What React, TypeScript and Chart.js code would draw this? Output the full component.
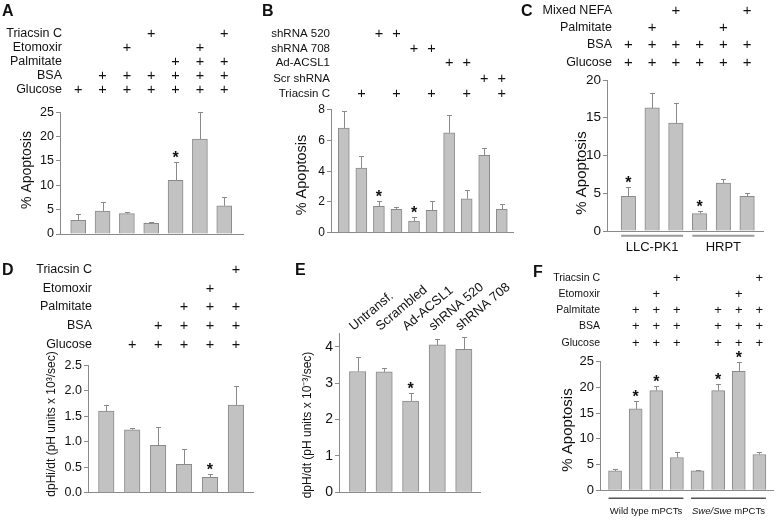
import React, { useEffect, useRef } from "react";
import { Chart, registerables } from "chart.js";

Chart.register(...registerables);

const W = 779;
const H = 521;
const YW = 40;
const FONT = "'Liberation Sans', Arial, Helvetica, sans-serif";
const TEXT = "#111111";
const AXIS = "#8a8a8a";
const BAR_FILL = "#c2c2c2";
const BAR_EDGE = "#8a8a8a";
const ERR = "#8a8a8a";

// ---------- Panel A ----------
const aRowLabels = ["Triacsin C", "Etomoxir", "Palmitate", "BSA", "Glucose"];
const aRowMarks = [[3, 6], [2, 5], [4, 5, 6], [1, 2, 3, 4, 5, 6], [0, 1, 2, 3, 4, 5, 6]];
const aValues = [2.8, 4.7, 4.2, 2.2, 11.0, 19.5, 5.8];
const aSem = [1.4, 1.8, 0.25, 0.2, 3.7, 5.5, 1.9];
const aStars = [4];

// ---------- Panel B ----------
const bRowLabels = ["shRNA 520", "shRNA 708", "Ad-ACSL1", "Scr shRNA", "Triacsin C"];
const bRowMarks = [[2, 3], [4, 5], [6, 7], [8, 9], [1, 3, 5, 7, 9]];
const bValues = [6.8, 4.2, 1.72, 1.52, 0.76, 1.46, 6.5, 2.2, 5.04, 1.52];
const bSem = [1.1, 0.76, 0.35, 0.13, 0.24, 0.58, 1.15, 0.58, 0.44, 0.33];
const bStars = [2, 4];

// ---------- Panel C ----------
const cRowLabels = ["Mixed NEFA", "Palmitate", "BSA", "Glucose"];
const cRowMarks = [[2, 5], [1, 4], [0, 1, 2, 3, 4, 5], [0, 1, 2, 3, 4, 5]];
const cValues = [4.6, 16.3, 14.3, 2.3, 6.35, 4.6];
const cSem = [1.2, 2.0, 2.7, 0.35, 0.5, 0.44];
const cStars = [0, 3];
const cGroups = ["LLC-PK1", "HRPT"];
const cGroupRanges = [[0, 2], [3, 5]];

// ---------- Panel D ----------
const dRowLabels = ["Triacsin C", "Etomoxir", "Palmitate", "BSA", "Glucose"];
const dRowMarks = [[5], [4], [3, 4, 5], [2, 3, 4, 5], [1, 2, 3, 4, 5]];
const dValues = [1.6, 1.235, 0.93, 0.555, 0.3, 1.72];
const dSem = [0.11, 0.035, 0.36, 0.295, 0.07, 0.365];
const dStars = [4];

// ---------- Panel E ----------
const eCategories = ["Untransf.", "Scrambled", "Ad-ACSL1", "shRNA 520", "shRNA 708"];
const eValues = [3.32, 3.31, 2.51, 4.05, 3.93];
const eSem = [0.4, 0.12, 0.21, 0.17, 0.35];
const eStars = [2];

// ---------- Panel F ----------
const fRowLabels = ["Triacsin C", "Etomoxir", "Palmitate", "BSA", "Glucose"];
const fRowMarks = [[3, 7], [2, 6], [1, 2, 3, 5, 6, 7], [1, 2, 3, 5, 6, 7], [1, 2, 3, 5, 6, 7]];
const fValues = [3.77, 15.8, 19.35, 6.36, 3.77, 19.35, 23.1, 6.95];
const fSem = [0.39, 1.5, 0.95, 1.1, 0.19, 1.35, 1.9, 0.45];
const fStars = [1, 2, 5, 6];
const fGroupRanges = [[0, 3], [4, 7]];

type Seg = { t: string; i?: boolean };
type PanelCfg = {
  letter: string;
  letterPos: [number, number];
  values: number[];
  sems: number[];
  stars: number[];
  area: { l: number; r: number; t: number; b: number };
  xRange: [number, number];
  yMax: number;
  yStep: number;
  tickSize: number;
  decimals: number;
  barW: number;
  rows?: { labels: string[]; marks: number[][]; labelX: number; ys: number[]; size: number; plusSize: number };
  yTitle: { text: string; x: number; y: number; size: number };
  groups?: { labels: Seg[][]; ranges: number[][]; lineY: number; labelY: number; size: number; color: string; width: number };
  cats?: { labels: string[]; dx: number; y: number; angle: number; size: number };
};

const panels: PanelCfg[] = [
  {
    letter: "A", letterPos: [2, 4],
    values: aValues, sems: aSem, stars: aStars,
    area: { l: 60, r: 243, t: 112.3, b: 234 },
    xRange: [-0.748, 6.77], yMax: 25, yStep: 5, tickSize: 12.5, decimals: 0, barW: 15,
    rows: { labels: aRowLabels, marks: aRowMarks, labelX: 62, ys: [34, 48, 62, 76, 90], size: 12.5, plusSize: 14.5 },
    yTitle: { text: "% Apoptosis", x: 27, y: 170, size: 14 },
  },
  {
    letter: "B", letterPos: [262, 4],
    values: bValues, sems: bSem, stars: bStars,
    area: { l: 331, r: 513, t: 109.7, b: 232.7 },
    xRange: [-0.73, 9.64], yMax: 8, yStep: 2, tickSize: 12, decimals: 0, barW: 11,
    rows: { labels: bRowLabels, marks: bRowMarks, labelX: 330, ys: [34, 48.5, 63, 78.5, 94], size: 11.5, plusSize: 14.5 },
    yTitle: { text: "% Apoptosis", x: 301.5, y: 175, size: 14.5 },
  },
  {
    letter: "C", letterPos: [521, 4],
    values: cValues, sems: cSem, stars: cStars,
    area: { l: 607, r: 763, t: 80, b: 231 },
    xRange: [-0.9, 5.67], yMax: 20, yStep: 5, tickSize: 13.5, decimals: 0, barW: 14.5,
    rows: { labels: cRowLabels, marks: cRowMarks, labelX: 612, ys: [11, 28, 45, 62.5], size: 12.5, plusSize: 15 },
    yTitle: { text: "% Apoptosis", x: 582, y: 173, size: 15 },
    groups: {
      labels: cGroups.map((g) => [{ t: g }]), ranges: cGroupRanges,
      lineY: 235.7, labelY: 247, size: 13, color: "#9a9a9a", width: 2,
    },
  },
  {
    letter: "D", letterPos: [2, 263],
    values: dValues, sems: dSem, stars: dStars,
    area: { l: 88, r: 253, t: 365.2, b: 492.7 },
    xRange: [-0.705, 5.66], yMax: 2.5, yStep: 0.5, tickSize: 12.5, decimals: 1, barW: 15.5,
    rows: { labels: dRowLabels, marks: dRowMarks, labelX: 92, ys: [270, 288.5, 307, 326, 345], size: 12.5, plusSize: 14.5 },
    yTitle: { text: "dpHi/dt (pH units x 10\u00B3/sec)", x: 52, y: 424, size: 12 },
  },
  {
    letter: "E", letterPos: [295, 263],
    values: eValues, sems: eSem, stars: eStars,
    area: { l: 339, r: 480, t: 333.3, b: 492.3 },
    xRange: [-0.7, 4.61], yMax: 4.37, yStep: 1, tickSize: 14, decimals: 0, barW: 16.3,
    yTitle: { text: "dpH/dt (pH units x 10\u207B\u00B3/sec)", x: 308, y: 425, size: 12 },
    cats: { labels: eCategories, dx: -4, y: 331, angle: -40, size: 13 },
  },
  {
    letter: "F", letterPos: [533, 265],
    values: fValues, sems: fSem, stars: fStars,
    area: { l: 600, r: 773, t: 361.5, b: 490.3 },
    xRange: [-0.73, 7.66], yMax: 25, yStep: 5, tickSize: 13, decimals: 0, barW: 13,
    rows: { labels: fRowLabels, marks: fRowMarks, labelX: 600, ys: [278, 294, 310, 326, 343], size: 10.5, plusSize: 13 },
    yTitle: { text: "% Apoptosis", x: 568, y: 430, size: 15 },
    groups: {
      labels: [[{ t: "Wild type mPCTs" }], [{ t: "Swe/Swe", i: true }, { t: " mPCTs" }]],
      ranges: fGroupRanges,
      lineY: 498.3, labelY: 511.7, size: 9.5, color: "#555555", width: 1.5,
    },
  },
];

function makePlugin(p: PanelCfg) {
  return {
    id: "annot" + p.letter,
    afterDraw(chart: any) {
      const ctx = chart.ctx as CanvasRenderingContext2D;
      const xs = chart.scales.x;
      const ys = chart.scales.y;
      ctx.save();

      // error bars (upper only)
      ctx.strokeStyle = ERR;
      ctx.lineWidth = 1;
      p.values.forEach((v, i) => {
        const x = Math.round(xs.getPixelForValue(i)) + 0.5;
        const y1 = ys.getPixelForValue(v);
        const y2 = Math.round(ys.getPixelForValue(v + p.sems[i])) + 0.5;
        ctx.beginPath();
        ctx.moveTo(x, y1);
        ctx.lineTo(x, y2);
        ctx.moveTo(x - 2.5, y2);
        ctx.lineTo(x + 2.5, y2);
        ctx.stroke();
      });

      // significance stars
      ctx.fillStyle = TEXT;
      ctx.font = `bold 16px ${FONT}`;
      ctx.textAlign = "center";
      ctx.textBaseline = "alphabetic";
      p.stars.forEach((i) => {
        const x = xs.getPixelForValue(i);
        const y = ys.getPixelForValue(p.values[i] + p.sems[i]);
        ctx.fillText("*", x, y + 1);
      });

      // panel letter
      ctx.font = `bold 16px ${FONT}`;
      ctx.textAlign = "left";
      ctx.textBaseline = "top";
      ctx.fillText(p.letter, p.letterPos[0], p.letterPos[1]);

      // treatment table
      if (p.rows) {
        const r = p.rows;
        r.labels.forEach((lab, k) => {
          const y = r.ys[k];
          ctx.font = `${r.size}px ${FONT}`;
          ctx.textAlign = "right";
          ctx.textBaseline = "middle";
          ctx.fillText(lab, r.labelX, y);
          ctx.font = `${r.plusSize}px ${FONT}`;
          ctx.textAlign = "center";
          r.marks[k].forEach((c) => {
            ctx.fillText("+", xs.getPixelForValue(c), y);
          });
        });
      }

      // y axis title
      ctx.save();
      ctx.translate(p.yTitle.x, p.yTitle.y);
      ctx.rotate(-Math.PI / 2);
      ctx.font = `${p.yTitle.size}px ${FONT}`;
      ctx.textAlign = "center";
      ctx.textBaseline = "middle";
      ctx.fillText(p.yTitle.text, 0, 0);
      ctx.restore();

      // group bars and labels
      if (p.groups) {
        const g = p.groups;
        g.ranges.forEach((rg, k) => {
          const x0 = xs.getPixelForValue(rg[0]) - p.barW / 2;
          const x1 = xs.getPixelForValue(rg[1]) + p.barW / 2;
          ctx.strokeStyle = g.color;
          ctx.lineWidth = g.width;
          ctx.beginPath();
          ctx.moveTo(x0, g.lineY);
          ctx.lineTo(x1, g.lineY);
          ctx.stroke();
          const segs = g.labels[k];
          const fonts = segs.map((s) => `${s.i ? "italic " : ""}${g.size}px ${FONT}`);
          const widths = segs.map((s, j) => {
            ctx.font = fonts[j];
            return ctx.measureText(s.t).width;
          });
          const total = widths.reduce((a, b) => a + b, 0);
          let x = (x0 + x1) / 2 - total / 2;
          ctx.textAlign = "left";
          ctx.textBaseline = "middle";
          ctx.fillStyle = TEXT;
          segs.forEach((s, j) => {
            ctx.font = fonts[j];
            ctx.fillText(s.t, x, g.labelY);
            x += widths[j];
          });
        });
      }

      // rotated category labels
      if (p.cats) {
        const c = p.cats;
        ctx.font = `${c.size}px ${FONT}`;
        ctx.textAlign = "left";
        ctx.textBaseline = "alphabetic";
        ctx.fillStyle = TEXT;
        c.labels.forEach((lab, i) => {
          ctx.save();
          ctx.translate(xs.getPixelForValue(i) + c.dx, c.y);
          ctx.rotate((c.angle * Math.PI) / 180);
          ctx.fillText(lab, 0, 0);
          ctx.restore();
        });
      }

      ctx.restore();
    },
  };
}

function buildConfig(p: PanelCfg): any {
  return {
    type: "bar",
    data: {
      datasets: [
        {
          data: p.values.map((v, i) => ({ x: i, y: v })),
          backgroundColor: BAR_FILL,
          borderColor: BAR_EDGE,
          borderWidth: 1,
          barThickness: p.barW,
        },
      ],
    },
    options: {
      responsive: false,
      animation: false,
      events: [],
      layout: {
        padding: { left: p.area.l - YW, right: W - p.area.r, top: p.area.t, bottom: H - p.area.b },
      },
      plugins: { legend: { display: false }, tooltip: { enabled: false } },
      scales: {
        x: {
          type: "linear",
          min: p.xRange[0],
          max: p.xRange[1],
          offset: false,
          ticks: { display: false },
          grid: { display: false, drawTicks: false },
          border: { display: true, color: AXIS, width: 1 },
          afterFit: (s: any) => {
            s.height = 0;
          },
        },
        y: {
          type: "linear",
          min: 0,
          max: p.yMax,
          ticks: {
            stepSize: p.yStep,
            includeBounds: false,
            font: { family: FONT, size: p.tickSize },
            color: TEXT,
            padding: 2,
            callback: (v: any) => Number(v).toFixed(p.decimals),
          },
          grid: { display: true, drawOnChartArea: false, drawTicks: true, tickLength: 4, color: AXIS },
          border: { display: true, color: AXIS, width: 1 },
          afterFit: (s: any) => {
            s.width = YW;
          },
          afterBuildTicks: (s: any) => {
            s.ticks = s.ticks.filter((t: any) => {
              const q = t.value / p.yStep;
              return Math.abs(q - Math.round(q)) < 1e-6;
            });
          },
        },
      },
    },
    plugins: [makePlugin(p)],
  };
}

function Panel({ cfg }: { cfg: PanelCfg }) {
  const ref = useRef<HTMLCanvasElement>(null);
  useEffect(() => {
    const chart = new Chart(ref.current as HTMLCanvasElement, buildConfig(cfg));
    return () => chart.destroy();
  }, [cfg]);
  return (
    <canvas
      ref={ref}
      width={W}
      height={H}
      style={{ position: "absolute", left: 0, top: 0, width: W, height: H }}
    />
  );
}

export default function App() {
  return (
    <div style={{ position: "fixed", left: 0, top: 0, width: W, height: H, background: "#ffffff", overflow: "hidden" }}>
      {panels.map((p) => (
        <Panel key={p.letter} cfg={p} />
      ))}
    </div>
  );
}
